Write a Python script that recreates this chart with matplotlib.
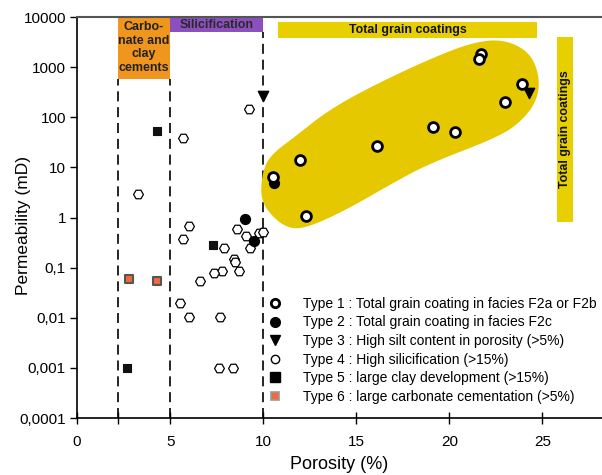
import numpy as np
import matplotlib.pyplot as plt
from matplotlib.patches import Polygon
from matplotlib.lines import Line2D
from matplotlib.ticker import NullLocator
import matplotlib.transforms as mtransforms

plt.rcParams['font.family'] = ['Liberation Sans', 'DejaVu Sans']

# porosity (%) and permeability (mD) for each rock type
type1_por = [21.7, 21.6, 23.9, 23.0, 19.1, 20.3, 16.1, 12.0, 10.5, 12.3]
type1_perm = [1800, 1450, 460, 200, 64, 51, 27, 14, 6.4, 1.07]

type2_por = [10.6, 9.0, 9.5]
type2_perm = [4.9, 0.92, 0.34]

type3_por = [10.0, 24.3]
type3_perm = [265, 300]

type4_por = [9.26, 5.68, 3.3, 5.99, 5.68, 8.58, 9.09, 9.3, 9.8, 9.98, 7.87,
             8.44, 8.46, 8.71, 7.78, 7.37, 6.58, 5.54, 5.99, 7.69, 7.6, 8.37]
type4_perm = [146, 38, 3.0, 0.67, 0.37, 0.6, 0.43, 0.25, 0.5, 0.52, 0.25,
              0.152, 0.127, 0.087, 0.087, 0.077, 0.054, 0.0193, 0.0104, 0.0104,
              0.001, 0.001]

type5_por = [4.3, 7.3, 2.7]
type5_perm = [54, 0.28, 0.001]

type6_por = [2.8, 4.3]
type6_perm = [0.059, 0.054]

legend_labels = [
    'Type 1 : Total grain coating in facies F2a or F2b',
    'Type 2 : Total grain coating in facies F2c',
    'Type 3 : High silt content in porosity (>5%)',
    'Type 4 : High silicification (>15%)',
    'Type 5 : large clay development (>15%)',
    'Type 6 : large carbonate cementation (>5%)',
]

# diagenesis zone limits (porosity %)
zone_limits = [2.2, 5, 10]

# outline of the "total grain coatings" field (porosity, log10 perm)
blob_por = [9.95, 10.16, 10.7, 11.61, 13.76, 16.99, 19.89, 21.51, 22.74, 23.82,
            24.46, 24.78, 24.62, 23.92, 22.74, 18.82, 16.83, 14.68, 12.9, 11.83,
            11.08, 10.38, 10.0]
blob_logk = [0.65, 1.05, 1.3, 1.55, 2.18, 2.8, 3.28, 3.48, 3.52, 3.38,
             3.14, 2.74, 2.34, 1.98, 1.65, 1.09, 0.69, 0.23, -0.09, -0.21,
             -0.13, 0.11, 0.35]

x_ticks = [0, 2.2, 5, 10, 15, 20, 25]
x_ticklabels = ['0', '', '5', '10', '15', '20', '25']
y_ticks = [1e-4, 1e-3, 1e-2, 1e-1, 1, 10, 100, 1000, 10000]
y_ticklabels = ['0,0001', '0,001', '0,01', '0,1', '1', '10', '100', '1000', '10000']


def chaikin(xs, ys, n=4):
    pts = np.column_stack([xs, ys]).astype(float)
    for _ in range(n):
        nxt = np.roll(pts, -1, axis=0)
        q = 0.75 * pts + 0.25 * nxt
        r = 0.25 * pts + 0.75 * nxt
        pts = np.empty((2 * len(q), 2))
        pts[0::2] = q
        pts[1::2] = r
    return pts


fig = plt.figure(figsize=(6.02, 4.75), dpi=100)
ax = fig.add_axes([0.128, 0.12, 0.872, 0.8442])
ax.set_yscale('log')
ax.set_xlim(0, 28.2)
ax.set_ylim(1e-4, 1e4)

trans = mtransforms.blended_transform_factory(ax.transData, ax.transAxes)

# yellow field
smooth = chaikin(blob_por, blob_logk)
smooth[:, 1] = 10 ** smooth[:, 1]
ax.add_patch(Polygon(smooth, closed=True, facecolor='#E6C800', edgecolor='#E6C800',
                     lw=2, zorder=2))

# zone boxes
ax.axvspan(zone_limits[0], zone_limits[1], ymin=0.845, ymax=1, color='#F0961E', lw=0, zorder=1)
ax.axvspan(zone_limits[1], zone_limits[2], ymin=0.963, ymax=1, color='#8C50BE', lw=0, zorder=1)
ax.text((zone_limits[0] + zone_limits[1]) / 2, 0.924, 'Carbo-\nnate and\nclay\ncements',
        transform=trans, ha='center', va='center', fontsize=9, fontweight='bold',
        color='#222222', linespacing=1.2, zorder=3)
ax.text((zone_limits[1] + zone_limits[2]) / 2, 0.981, 'Silicification', transform=trans,
        ha='center', va='center', fontsize=9, fontweight='bold', color='#2a2a2a', zorder=3)

ax.axvspan(10.8, 24.7, ymin=0.948, ymax=0.988, color='#E8D000', lw=0, zorder=1)
ax.text(17.75, 0.968, 'Total grain coatings', transform=trans, ha='center', va='center',
        fontsize=8.9, fontweight='bold', color='#111111', zorder=3)
ax.axvspan(25.8, 26.65, ymin=0.489, ymax=0.95, color='#E8D000', lw=0, zorder=1)
ax.text(26.22, 0.72, 'Total grain coatings', transform=trans, ha='center', va='center',
        rotation=90, fontsize=8.9, fontweight='bold', color='#111111', zorder=3)

# dashed zone limits
dash = (0, (6, 3.5))
ax.axvline(zone_limits[0], ymin=0, ymax=0.845, color='black', lw=1.2, ls=dash, zorder=1.5)
ax.axvline(zone_limits[1], ymin=0, ymax=0.845, color='black', lw=1.2, ls=dash, zorder=1.5)
ax.axvline(zone_limits[2], ymin=0, ymax=0.963, color='black', lw=1.2, ls=dash, zorder=1.5)

# data points
ax.scatter(type4_por, type4_perm, marker='H', s=50, facecolor='white', edgecolor='black',
           linewidth=0.9, zorder=4)
ax.scatter(type5_por, type5_perm, marker='s', s=38, facecolor='#111111', edgecolor='#111111',
           linewidth=0.8, zorder=4)
ax.scatter(type6_por, type6_perm, marker='s', s=38, facecolor='#F06A3A', edgecolor='#555555',
           linewidth=1.5, zorder=4)
ax.scatter(type2_por, type2_perm, marker='o', s=50, facecolor='black', edgecolor='black',
           zorder=5)
ax.scatter(type3_por, type3_perm, marker='v', s=55, facecolor='black', edgecolor='black',
           zorder=5)
ax.scatter(type1_por, type1_perm, marker='o', s=50, facecolor='white', edgecolor='black',
           linewidth=2, zorder=6)

handles = [
    Line2D([], [], ls='none', marker='o', ms=6, mfc='white', mec='black', mew=2),
    Line2D([], [], ls='none', marker='o', ms=7, mfc='black', mec='black'),
    Line2D([], [], ls='none', marker='v', ms=7, mfc='black', mec='black'),
    Line2D([], [], ls='none', marker='o', ms=6, mfc='white', mec='black', mew=1),
    Line2D([], [], ls='none', marker='s', ms=6.5, mfc='black', mec='black'),
    Line2D([], [], ls='none', marker='s', ms=6, mfc='#F06A3A', mec='#999999', mew=1.2),
]
ax.legend(handles, legend_labels, loc='upper left', bbox_to_anchor=(0.364, 0.302),
          frameon=False, fontsize=10, handlelength=1.0, handletextpad=1.5,
          labelspacing=0.33, borderpad=0, borderaxespad=0)

# axes styling
ax.spines['right'].set_visible(False)
ax.spines['top'].set_color('#555555')
ax.spines['top'].set_linewidth(1.5)
for s in ['left', 'bottom']:
    ax.spines[s].set_linewidth(1.2)

ax.set_xticks(x_ticks)
ax.set_xticklabels(x_ticklabels)
ax.set_yticks(y_ticks)
ax.set_yticklabels(y_ticklabels)
ax.yaxis.set_minor_locator(NullLocator())
ax.tick_params(axis='x', direction='inout', length=8, width=1, labelsize=11, pad=8)
ax.tick_params(axis='y', direction='out', length=5, width=1, labelsize=11, pad=3)
ax.set_xlabel('Porosity (%)', fontsize=13, labelpad=5)
ax.set_ylabel('Permeability (mD)', fontsize=12.5)
ax.yaxis.set_label_coords(-0.088, 0.48)

fig.savefig('out.png', dpi=100)
